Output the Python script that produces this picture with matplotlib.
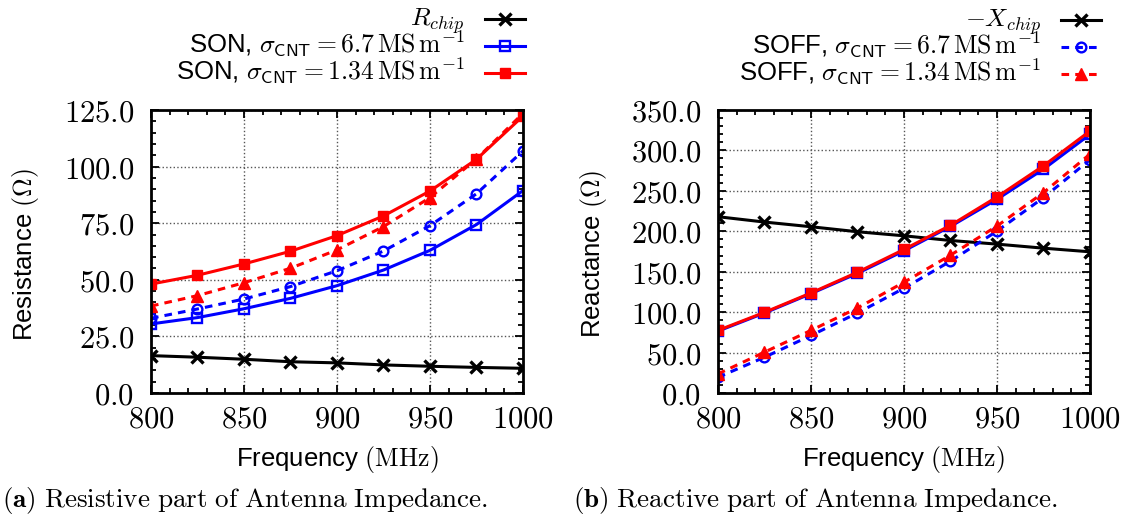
import matplotlib
matplotlib.use("Agg")
import matplotlib.pyplot as plt
from matplotlib.lines import Line2D
from matplotlib.ticker import MultipleLocator, FuncFormatter

plt.rcParams['font.family'] = ['Liberation Sans', 'DejaVu Sans']
plt.rcParams['mathtext.fontset'] = 'cm'

# Frequência (MHz)
freq = [800, 825, 850, 875, 900, 925, 950, 975, 1000]

# Parte resistiva (Ohm)
r_chip = [16.5, 15.8, 14.9, 13.8, 13.3, 12.4, 11.8, 11.3, 10.9]
r_son_67 = [30.5, 33.3, 37.2, 41.8, 47.4, 54.3, 63.0, 74.4, 89.4]
r_son_134 = [48.1, 52.0, 57.0, 62.6, 69.5, 78.2, 89.2, 103.2, 122.3]
r_soff_67 = [33.0, 37.1, 41.5, 47.0, 54.0, 62.7, 73.9, 88.0, 106.9]
r_soff_134 = [38.4, 43.0, 48.7, 55.1, 63.2, 73.5, 86.3, 103.4, 123.5]

# Parte reativa (Ohm)
x_chip = [218.0, 211.4, 205.6, 199.4, 194.4, 188.6, 184.1, 179.1, 174.6]
x_son_67 = [76.5, 98.9, 122.9, 148.0, 175.8, 206.0, 239.5, 276.8, 319.8]
x_son_134 = [77.4, 99.7, 123.7, 149.3, 177.5, 207.3, 242.4, 280.9, 323.9]
x_soff_67 = [19.4, 44.2, 71.1, 98.9, 129.5, 163.0, 200.2, 241.6, 288.4]
x_soff_134 = [23.6, 50.5, 77.4, 105.1, 136.9, 170.4, 206.4, 247.8, 295.4]

lbl_67 = r'$\sigma_{\mathsf{CNT}} = 6.7\,\mathrm{MS}\,\mathrm{m}^{-1}$'
lbl_134 = r'$\sigma_{\mathsf{CNT}} = 1.34\,\mathrm{MS}\,\mathrm{m}^{-1}$'

AZUL = '#0000ff'
VERM = '#ff0000'
LW = 2.2
DASH = (2.5, 2)

# estilos das cinco séries
st_chip = dict(color='black', lw=LW, marker='x', ms=8, mew=2.4)
st_son_67 = dict(color=AZUL, lw=LW, marker='s', ms=7, mfc='none', mew=1.7)
st_son_134 = dict(color=VERM, lw=LW, marker='s', ms=7)
st_soff_67 = dict(color=AZUL, lw=LW, ls='--', dashes=DASH, marker='o', ms=7,
                  mfc='none', mew=1.7)
st_soff_134 = dict(color=VERM, lw=LW, ls='--', dashes=DASH, marker='^', ms=8.5)

W, H = 1131, 519
fig = plt.figure(figsize=(W / 100, H / 100), dpi=100)
ax1 = fig.add_axes([0.1335, 0.2428, 0.3289, 0.5453])
ax2 = fig.add_axes([0.6348, 0.2428, 0.3289, 0.5453])


def estilo(ax, ymax, ymaj, ymin):
    ax.set_xlim(800, 1000)
    ax.set_ylim(0, ymax)
    ax.xaxis.set_major_locator(MultipleLocator(50))
    ax.xaxis.set_minor_locator(MultipleLocator(10))
    ax.yaxis.set_major_locator(MultipleLocator(ymaj))
    ax.yaxis.set_minor_locator(MultipleLocator(ymin))
    ax.xaxis.set_major_formatter(FuncFormatter(lambda v, p: f'${v:.0f}$'))
    ax.yaxis.set_major_formatter(FuncFormatter(lambda v, p: f'${v:.1f}$'))
    ax.tick_params(which='both', direction='in', top=True, right=True,
                   labelsize=22, width=1.3)
    ax.tick_params(which='major', length=6, pad=8)
    ax.tick_params(which='minor', length=3.5)
    ax.tick_params(axis='y', pad=12)
    for s in ax.spines.values():
        s.set_linewidth(2)
    ax.grid(True, which='major', linestyle=':', color='#555555', lw=1)
    ax.set_axisbelow(True)


def item(xt, ypx, texto, st):
    # texto alinhado à direita e amostra da linha à sua direita
    y = 1 - ypx / H
    fig.text(xt / W, 1 - (ypx + 7) / H, texto, ha='right', va='baseline',
             fontsize=18.5)
    x0 = (xt + 20) / W
    x1 = (xt + 60) / W
    fig.add_artist(Line2D([x0, (x0 + x1) / 2, x1], [y, y, y], markevery=[1],
                          transform=fig.transFigure, **st))


# (a) resistência
ax1.plot(freq, r_chip, **st_chip)
ax1.plot(freq, r_son_67, **st_son_67)
ax1.plot(freq, r_son_134, **st_son_134)
ax1.plot(freq, r_soff_67, **st_soff_67)
ax1.plot(freq, r_soff_134, **st_soff_134)
estilo(ax1, 125, 25, 5)
ax1.set_ylabel(r'Resistance $(\Omega)$', fontsize=18.5)
ax1.yaxis.set_label_coords(-0.295, 0.49)

# (b) reatância
ax2.plot(freq, x_chip, **st_chip)
ax2.plot(freq, x_son_67, **st_son_67)
ax2.plot(freq, x_son_134, **st_son_134)
ax2.plot(freq, x_soff_67, **st_soff_67)
ax2.plot(freq, x_soff_134, **st_soff_134)
estilo(ax2, 350, 50, 10)
ax2.set_ylabel(r'Reactance $(\Omega)$', fontsize=18.5)
ax2.yaxis.set_label_coords(-0.293, 0.49)

# legendas acima de cada gráfico
item(465, 19, r'$R_{chip}$', st_chip)
item(465, 46, 'SON, ' + lbl_67, st_son_67)
item(465, 73, 'SON, ' + lbl_134, st_son_134)
item(1041, 20, r'$-X_{chip}$', st_chip)
item(1041, 47, 'SOFF, ' + lbl_67, st_soff_67)
item(1041, 74, 'SOFF, ' + lbl_134, st_soff_134)

# rótulos do eixo x
for xc in (0.298, 0.799):
    fig.text(xc, 1 - 466 / H, r'Frequency $(\mathrm{MHz})$', ha='center',
             va='baseline', fontsize=18.5)

# legendas das figuras
fig.text(0.002, 1 - 507 / H,
         r'$\mathbf{(a)}\ \mathrm{Resistive\ part\ of\ Antenna\ Impedance.}$',
         ha='left', va='baseline', fontsize=19.5)
fig.text(0.507, 1 - 507 / H,
         r'$\mathbf{(b)}\ \mathrm{Reactive\ part\ of\ Antenna\ Impedance.}$',
         ha='left', va='baseline', fontsize=19.5)

fig.savefig('out.png', dpi=100)
